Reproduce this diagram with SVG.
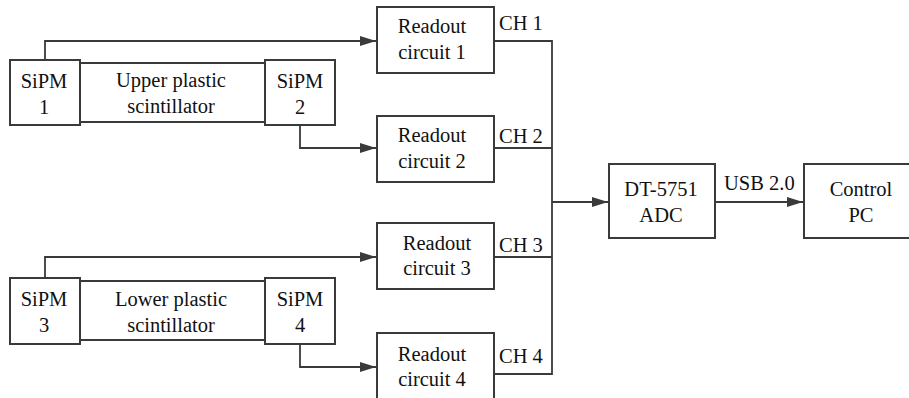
<svg xmlns="http://www.w3.org/2000/svg" width="909" height="398" viewBox="0 0 909 398">
  <style>
    .box { fill: #ffffff; stroke: #3a3a3a; stroke-width: 2; }
    .wire { fill: none; stroke: #3a3a3a; stroke-width: 1.8; }
    .t { fill: #111111; text-anchor: middle; }
    .lbl { fill: #111111; text-anchor: start; }
  </style>
  <defs>
    <marker id="arrow" viewBox="0 0 16 10" refX="16" refY="5" markerWidth="16" markerHeight="10" markerUnits="userSpaceOnUse" orient="auto">
      <path d="M0,0 L16,5 L0,10 z" fill="#3a3a3a"/>
    </marker>
  </defs>
  <rect width="909" height="398" fill="#ffffff"/>

  <g font-family="'Liberation Serif', 'Times New Roman', serif" font-size="20.5">
  <!-- connectors -->
  <g id="connectors">
    <path class="wire" d="M45,60 V41 H376" marker-end="url(#arrow)"/>
    <path class="wire" d="M300,125 V148 H376" marker-end="url(#arrow)"/>
    <path class="wire" d="M45,278 V257 H376" marker-end="url(#arrow)"/>
    <path class="wire" d="M300,344 V367 H376" marker-end="url(#arrow)"/>
    <path class="wire" d="M494,41 H552 V374 H494"/>
    <path class="wire" d="M494,148 H552"/>
    <path class="wire" d="M494,257 H552"/>
    <path class="wire" d="M552,202 H608" marker-end="url(#arrow)"/>
    <path class="wire" d="M715,202 H803" marker-end="url(#arrow)"/>
    <text class="lbl" x="499" y="30">CH 1</text>
    <text class="lbl" x="499" y="143">CH 2</text>
    <text class="lbl" x="499" y="252">CH 3</text>
    <text class="lbl" x="499" y="363">CH 4</text>
    <text class="lbl" x="724" y="190">USB 2.0</text>
  </g>

  <!-- upper detector -->
  <g id="upper-scintillator">
    <rect class="box" x="80" y="63" width="185" height="59"/>
    <text class="t" x="171" y="87">Upper plastic</text>
    <text class="t" x="171" y="113">scintillator</text>
  </g>
  <g id="sipm1">
    <rect class="box" x="10" y="60" width="70" height="65"/>
    <text class="t" x="44" y="88">SiPM</text>
    <text class="t" x="44" y="114">1</text>
  </g>
  <g id="sipm2">
    <rect class="box" x="265" y="60" width="70" height="65"/>
    <text class="t" x="300" y="88">SiPM</text>
    <text class="t" x="300" y="114">2</text>
  </g>

  <!-- lower detector -->
  <g id="lower-scintillator">
    <rect class="box" x="80" y="281" width="185" height="59"/>
    <text class="t" x="171" y="306">Lower plastic</text>
    <text class="t" x="171" y="332">scintillator</text>
  </g>
  <g id="sipm3">
    <rect class="box" x="10" y="278" width="70" height="66"/>
    <text class="t" x="44" y="306">SiPM</text>
    <text class="t" x="44" y="332">3</text>
  </g>
  <g id="sipm4">
    <rect class="box" x="265" y="278" width="70" height="66"/>
    <text class="t" x="300" y="306">SiPM</text>
    <text class="t" x="300" y="332">4</text>
  </g>

  <!-- readout circuits -->
  <g id="readout1">
    <rect class="box" x="377" y="7" width="117" height="66"/>
    <text class="t" x="432" y="33">Readout</text>
    <text class="t" x="432" y="59">circuit 1</text>
  </g>
  <g id="readout2">
    <rect class="box" x="377" y="116" width="117" height="66"/>
    <text class="t" x="432" y="142">Readout</text>
    <text class="t" x="432" y="168">circuit 2</text>
  </g>
  <g id="readout3">
    <rect class="box" x="377" y="223" width="117" height="66"/>
    <text class="t" x="437" y="250">Readout</text>
    <text class="t" x="437" y="275">circuit 3</text>
  </g>
  <g id="readout4">
    <rect class="box" x="377" y="333" width="117" height="70"/>
    <text class="t" x="432" y="361">Readout</text>
    <text class="t" x="432" y="386">circuit 4</text>
  </g>

  <!-- acquisition -->
  <g id="adc">
    <rect class="box" x="609" y="164" width="106" height="74"/>
    <text class="t" x="661" y="196">DT-5751</text>
    <text class="t" x="661" y="222">ADC</text>
  </g>
  <g id="control-pc">
    <rect class="box" x="804" y="164" width="110" height="74"/>
    <text class="t" x="861" y="196">Control</text>
    <text class="t" x="861" y="222">PC</text>
  </g>
  </g>
</svg>
